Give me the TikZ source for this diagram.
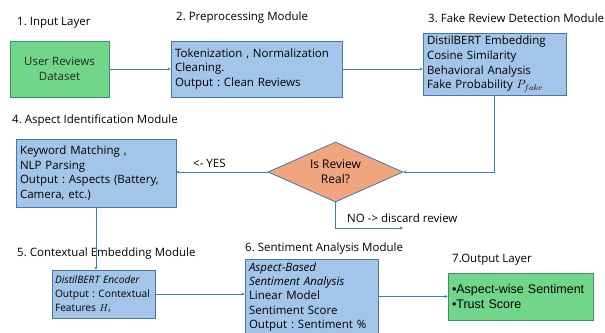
\documentclass[tikz,border=0pt]{standalone}
\usepackage{fontspec}
\setmainfont{Open Sans}
\newfontfamily\arialfont{Liberation Sans}
\usetikzlibrary{shapes.geometric,arrows.meta}
\hyphenpenalty=10000
\exhyphenpenalty=10000
\frenchspacing

\definecolor{boxblue}{RGB}{163,197,233}
\definecolor{boxgreen}{RGB}{114,214,138}
\definecolor{diaorange}{RGB}{241,165,127}
\definecolor{edgeblue}{RGB}{70,120,165}
\definecolor{edgegreen}{RGB}{60,140,110}
\definecolor{flowblue}{RGB}{62,126,160}

\begin{document}
\begin{tikzpicture}[x=1pt,y=-1pt,font=\fontsize{11.5}{14.8}\selectfont]
    % `module' is the blue box of a processing step.
    % `layer' is the green box (input and output).
    % `decision' is the orange diamond, `flow' the connecting lines.
    \tikzstyle{module} = [draw=edgeblue,fill=boxblue,line width=0.8pt,align=left,inner sep=4pt]
    \tikzstyle{layer} = [draw=edgegreen,fill=boxgreen,line width=0.8pt,inner sep=4pt]
    \tikzstyle{decision} = [draw=edgeblue,fill=diaorange,line width=0.8pt,shape=diamond,aspect=2.25,inner sep=0pt,minimum width=135pt,minimum height=60pt,align=center]
    \tikzstyle{title} = [anchor=west,inner sep=0pt]
    \tikzstyle{flow} = [draw=flowblue,line width=0.8pt,-{Stealth[length=3pt,width=3pt]}]
    \useasboundingbox (0,0) rectangle (605,332);
    %
    \node[layer,minimum width=99pt,minimum height=56pt,align=center,text=black!85] (inp) at (59.5,69) {User Reviews\\Dataset};
    \node[module,text width=163pt,minimum height=56pt] (pre) at (256.5,69) {Tokenization , Normalization\\Cleaning.\\Output : Clean Reviews};
    \node[module,text width=135pt,minimum height=62pt,inner ysep=2pt] (fake) at (494.5,64) {DistilBERT Embedding\\Cosine Similarity\\Behavioral Analysis\\Fake Probability $P_{fake}$};
    \node[decision,font=\fontsize{12}{14.8}\selectfont] (dia) at (335.5,172) {Is Review\\Real?};
    \node[module,text width=152pt,minimum height=68pt] (asp) at (96,173) {Keyword Matching ,\\NLP Parsing\\Output : Aspects (Battery,\\Camera, etc.)};
    \node[module,text width=97pt,minimum height=48pt,inner xsep=3pt,font=\fontsize{10.2}{14}\selectfont] (ctx) at (103.5,294) {\textit{DistilBERT Encoder}\\Output : Contextual\\Features $H_i$};
    \node[module,text width=125pt,minimum height=76pt,inner ysep=2pt,font=\fontsize{11.5}{14.3}\selectfont] (sent) at (311.5,297) {\textit{Aspect-Based}\\\textit{Sentiment Analysis}\\Linear Model\\Sentiment Score\\Output : Sentiment \%};
    \node[layer,text width=137pt,minimum height=47pt,align=left,font=\arialfont\fontsize{12.5}{15}\selectfont] (out) at (520.5,296.5) {•Aspect-wise Sentiment\\•Trust Score};
    \coordinate (nodisc) at (403,228);
    %
    % section titles
    \node[title] (t1) at (17,23) {1. Input Layer};
    \node[title] (t2) at (176,18) {2. Preprocessing Module};
    \node[title] (t3) at (428,18) {3. Fake Review Detection Module};
    \node[title] (t4) at (12,120) {4. Aspect Identification Module};
    \node[title] (t5) at (17,254) {5. Contextual Embedding Module};
    \node[title] (t6) at (245,249) {6. Sentiment Analysis Module};
    \node[title] (t7) at (452,260) {7.Output Layer};
    \node[title] (yes) at (193,163) {<- YES};
    \node[title] (no) at (347,218) {NO -> discard review};
    %
    % connectors
    \draw[flow] (inp.east) -- (pre.west);
    \draw[flow] (pre.east) -- (pre.east -| fake.west);
    \draw[flow] (fake.south) |- (dia.east);
    \draw[flow] (dia.west) -- (dia.west -| asp.east);
    \draw[flow] (dia.south) |- (nodisc);
    \draw[flow] (asp.south) -- (asp.south |- ctx.north);
    \draw[flow] (ctx.east) -- (ctx.east -| sent.west);
    \draw[flow] (out.west -| sent.east) -- (out.west);
\end{tikzpicture}
\end{document}
